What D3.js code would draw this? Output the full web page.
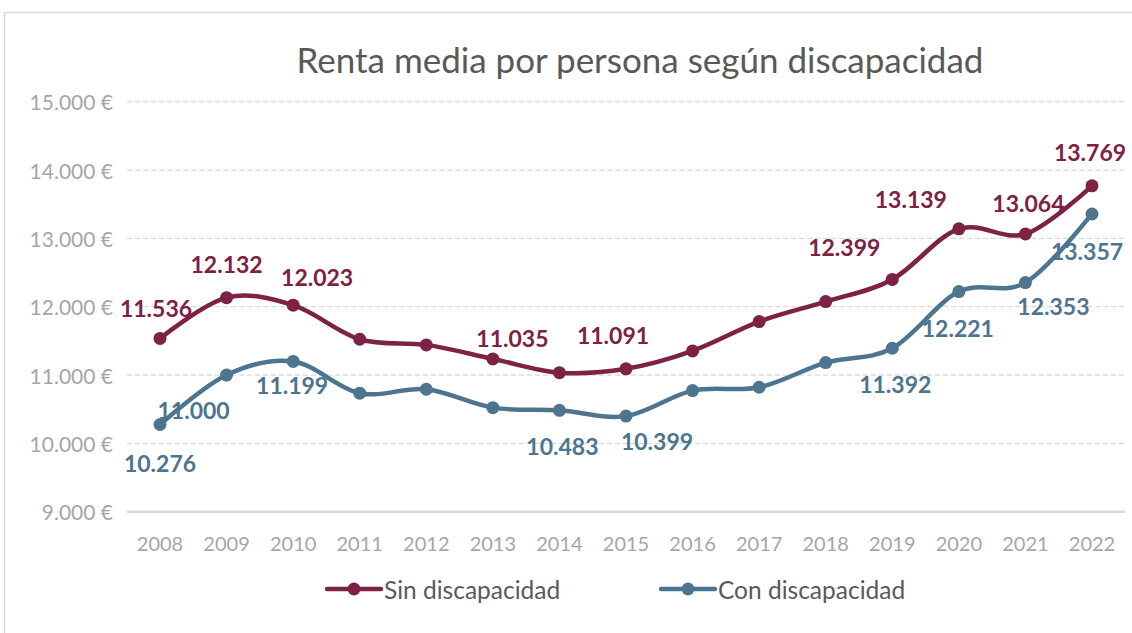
<!DOCTYPE html>
<html>
<head>
<meta charset="utf-8">
<script src="https://cdn.jsdelivr.net/npm/d3@7"></script>
<style>
  body { margin: 0; background: #fff; }
  svg { display: block; font-family: Lato, "Open Sans", sans-serif; }
</style>
</head>
<body>
<svg width="1132" height="633"></svg>
<script>
var years = ['2008', '2009', '2010', '2011', '2012', '2013', '2014', '2015',
  '2016', '2017', '2018', '2019', '2020', '2021', '2022']
var sinDisc = [11536, 12132, 12023, 11524, 11441, 11236, 11035, 11091,
  11353, 11782, 12075, 12399, 13139, 13064, 13769]
var conDisc = [10276, 11000, 11199, 10734, 10792, 10523, 10483, 10399,
  10772, 10821, 11182, 11392, 12221, 12353, 13357]
var yTicks = [9000, 10000, 11000, 12000, 13000, 14000, 15000]

// which points carry a data label, and where it sits relative to the point
var sinLabels = [[0, -4, -30], [1, 0, -34], [2, 24, -28], [6, -47, -35], [7, -13, -34],
  [11, -48, -32], [12, -48, -30], [13, 3, -31], [14, -2, -34]]
var conLabels = [[0, 0, 38], [1, -33, 35], [2, -1, 24], [6, 3, 36], [7, 31, 25],
  [11, 3, 36], [12, -1, 36], [13, 28, 23], [14, -5, 37]]

var series = [
  {name: 'Sin discapacidad', values: sinDisc, color: '#7d2145', labels: sinLabels, legendX: 327},
  {name: 'Con discapacidad', values: conDisc, color: '#4e7590', labels: conLabels, legendX: 661}
]

var es = d3.formatLocale({decimal: ',', thousands: '.', grouping: [3], currency: ['', ' €']})
var fmt = es.format(',d')

var svg = d3.select('svg')

svg.append('rect')
  .attr('x', 4.5).attr('y', 12.5)
  .attr('width', 1140).attr('height', 640)
  .attr('fill', 'none').attr('stroke', '#d9d9d9').attr('stroke-width', 1.5)

var x = d3.scalePoint().domain(years).range([160, 1092])
var y = d3.scaleLinear().domain([9000, 15000]).range([511.7, 101.7])

svg.append('text')
  .attr('x', 640).attr('y', 59)
  .attr('text-anchor', 'middle').attr('dominant-baseline', 'central')
  .attr('fill', '#595959').attr('font-size', 35)
  .text('Renta media por persona según discapacidad')

// grid
svg.append('g').selectAll('line')
  .data(yTicks)
  .enter()
  .append('line')
  .attr('x1', 127).attr('x2', 1125)
  .attr('y1', function (d) { return y(d) })
  .attr('y2', function (d) { return y(d) })
  .attr('stroke', '#d9d9d9')
  .attr('stroke-width', function (d) { return d === 9000 ? 2.5 : 1.3 })
  .attr('stroke-dasharray', function (d) { return d === 9000 ? null : '5,3' })

svg.append('g').selectAll('text')
  .data(yTicks)
  .enter()
  .append('text')
  .attr('x', 113)
  .attr('y', function (d) { return y(d) })
  .attr('text-anchor', 'end').attr('dominant-baseline', 'central')
  .attr('fill', '#a6a6a6').attr('font-size', 21)
  .text(function (d) { return fmt(d) + ' €' })

svg.append('g').selectAll('text')
  .data(years)
  .enter()
  .append('text')
  .attr('x', function (d) { return x(d) })
  .attr('y', 543)
  .attr('text-anchor', 'middle').attr('dominant-baseline', 'central')
  .attr('fill', '#a6a6a6').attr('font-size', 20)
  .text(function (d) { return d })

var line = d3.line()
  .x(function (d, i) { return x(years[i]) })
  .y(function (d) { return y(d) })
  .curve(d3.curveCardinal.tension(0))

series.forEach(function (s) {
  var g = svg.append('g')
  g.append('path')
    .attr('d', line(s.values))
    .attr('fill', 'none').attr('stroke', s.color)
    .attr('stroke-width', 4.5).attr('stroke-linecap', 'round')

  g.selectAll('circle')
    .data(s.values)
    .enter()
    .append('circle')
    .attr('cx', function (d, i) { return x(years[i]) })
    .attr('cy', function (d) { return y(d) })
    .attr('r', 6.5)
    .attr('fill', s.color)

  g.selectAll('text')
    .data(s.labels)
    .enter()
    .append('text')
    .attr('x', function (d) { return x(years[d[0]]) + d[1] })
    .attr('y', function (d) { return y(s.values[d[0]]) + d[2] })
    .attr('text-anchor', 'middle').attr('dominant-baseline', 'central')
    .attr('fill', s.color).attr('font-size', 23).attr('font-weight', 'bold')
    .text(function (d) { return fmt(s.values[d[0]]) })

  var lg = svg.append('g').attr('transform', 'translate(' + s.legendX + ',589)')
  lg.append('line')
    .attr('x1', 0).attr('x2', 54)
    .attr('stroke', s.color).attr('stroke-width', 4.5).attr('stroke-linecap', 'round')
  lg.append('circle').attr('cx', 27).attr('r', 6.5).attr('fill', s.color)
  lg.append('text')
    .attr('x', 57).attr('dominant-baseline', 'central')
    .attr('fill', '#595959').attr('font-size', 24.5)
    .text(s.name)
})
</script>
</body>
</html>
